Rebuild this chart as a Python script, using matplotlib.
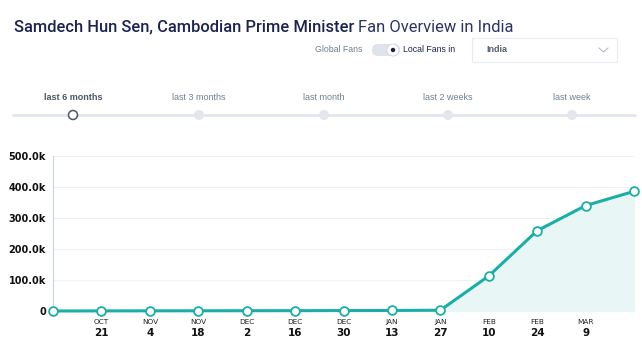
import matplotlib
matplotlib.use('Agg')
import matplotlib.pyplot as plt
from matplotlib.patches import FancyBboxPatch, Rectangle, Circle
import matplotlib.transforms as mtransforms

# data
months = ['', 'OCT', 'NOV', 'NOV', 'DEC', 'DEC', 'DEC', 'JAN', 'JAN', 'FEB', 'FEB', 'MAR', '']
days = ['', '21', '4', '18', '2', '16', '30', '13', '27', '10', '24', '9', '']
fans = [0, 300, 500, 700, 900, 1100, 1400, 1700, 2500, 113000, 259000, 340000, 386000]
y_ticks = [0, 100000, 200000, 300000, 400000, 500000]
y_labels = ['0', '100.0k', '200.0k', '300.0k', '400.0k', '500.0k']
periods = ['last 6 months', 'last 3 months', 'last month', 'last 2 weeks', 'last week']

teal = '#1aafa6'
W, H = 642, 361
fig = plt.figure(figsize=(W / 100, H / 100), dpi=100)

# overlay in pixel coords for the page furniture
ui = fig.add_axes([0, 0, 1, 1])
ui.set_xlim(0, W)
ui.set_ylim(H, 0)
ui.axis('off')

# title in two weights
t1 = ui.text(14, 27, 'Samdech Hun Sen, Cambodian Prime Minister', fontsize=11.9,
             family='Roboto', weight='medium', color='#1c2252', va='center')
fig.canvas.draw()
bb = t1.get_window_extent()
x_end = ui.transData.inverted().transform((bb.x1, bb.y0))[0]
ui.text(x_end + 4, 27, 'Fan Overview in India', fontsize=11.9, family='Roboto',
        color='#2b3366', va='center')

# toggle row
ui.text(315, 50, 'Global Fans', fontsize=6.3, family='Liberation Sans', color='#6f8190', va='center')
ui.add_patch(FancyBboxPatch((372, 44), 28, 12, boxstyle='round,pad=0,rounding_size=6',
                            fc='#dfe4ea', ec='none'))
ui.add_patch(Circle((393, 50), 6, fc='white', ec='#cfd6de', lw=0.6))
ui.add_patch(Circle((393, 50), 2.2, fc='#1c2252', ec='none'))
ui.text(403, 50, 'Local Fans in', fontsize=6.3, family='Liberation Sans', color='#1c2252', va='center')
ui.add_patch(Rectangle((472, 38), 145, 24, fc='white', ec='#e8ebef', lw=0.8))
ui.text(486, 50, 'India', fontsize=6.5, family='Liberation Sans', weight='bold', color='#55606c', va='center')
ui.plot([599, 603.5, 608], [48, 52, 48], color='#aab3bc', lw=0.7)

# period slider
slider_x = [73, 199, 324, 448, 572]
ui.plot([13, 635], [115, 115], color='#e2e7ed', lw=2, solid_capstyle='round', zorder=1)
for i, (px, lab) in enumerate(zip(slider_x, periods)):
    if i == 0:
        ui.text(px, 97, lab, fontsize=6.5, family='Liberation Sans', weight='bold',
                color='#4c5864', ha='center', va='center')
        ui.add_patch(Circle((px, 115), 4.5, fc='white', ec='#4c5864', lw=1.1, zorder=3))
    else:
        ui.text(px, 97, lab, fontsize=6.5, family='Liberation Sans',
                color='#6f8190', ha='center', va='center')
        ui.add_patch(Circle((px, 115), 5, fc='#e2e7ed', ec='none', zorder=3))

# chart
ax = fig.add_axes([53 / W, (H - 311) / H, (634 - 53) / W, 155 / H])
x = list(range(len(fans)))
ax.fill_between(x, fans, 0, color='#e9f6f6', zorder=1)
ax.plot(x, fans, color=teal, lw=2.2, marker='o', markersize=6.3,
        markerfacecolor='white', markeredgecolor=teal, markeredgewidth=1.3,
        clip_on=False, zorder=4)
ax.set_xlim(0, len(fans) - 1)
ax.set_ylim(0, 500000)
ax.set_yticks(y_ticks)
ax.set_yticklabels(y_labels, fontsize=7, weight='bold', color='#111111')
ax.tick_params(axis='y', length=0, pad=5)
for yv in y_ticks[1:]:
    ax.axhline(yv, color='#eef1f3', lw=0.8, zorder=0)
ax.set_xticks([])
for s in ['top', 'right', 'bottom']:
    ax.spines[s].set_visible(False)
ax.spines['left'].set_color('#c9d6e0')
ax.spines['left'].set_linewidth(0.8)
trans = mtransforms.blended_transform_factory(ax.transData, ui.transData)
for xi, (m, d) in enumerate(zip(months, days)):
    if not m:
        continue
    ax.text(xi, 322, m, transform=trans, fontsize=5.3, color='#222222', ha='center', va='center')
    ax.text(xi, 332.5, d, transform=trans, fontsize=7.5, weight='bold', color='#111111',
            ha='center', va='center')

fig.savefig('out.png', dpi=100)
